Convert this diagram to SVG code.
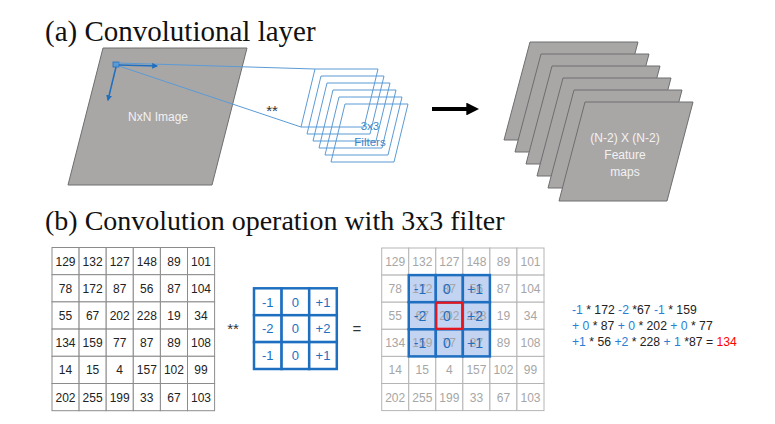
<svg xmlns="http://www.w3.org/2000/svg" width="775" height="424" viewBox="0 0 775 424">
<defs>
<style>
.title{font-family:"Liberation Serif","Times New Roman",serif;font-size:28px;fill:#111}
.wt{font-family:"Liberation Sans",Arial,sans-serif;font-size:12px;fill:#f2f2f2;text-anchor:middle}
.ft{font-family:"Liberation Sans",Arial,sans-serif;font-size:11.5px;fill:#3d85c6;text-anchor:middle}
.sheet{fill:#a9a6a6;stroke:#6e6e6e;stroke-width:1}
.filt{fill:none;stroke:#5b9bd5;stroke-width:1}
.cell{fill:#fff;stroke:#8c8c8c;stroke-width:1}
.num{font-family:"Liberation Sans",Arial,sans-serif;font-size:12px;fill:#222;text-anchor:middle}
.gnum{font-family:"Liberation Sans",Arial,sans-serif;font-size:12px;fill:#a6a6a6;text-anchor:middle}
.gcell{fill:#fff;stroke:#b5b5b5;stroke-width:1}
.kcell{fill:#fff;stroke:#1f6fc0;stroke-width:2.5}
.knum{font-family:"Liberation Sans",Arial,sans-serif;font-size:13px;fill:#1f6fc0;text-anchor:middle}
.hcell{fill:#b9cbf0;fill-opacity:0.85;stroke:#1f6fc0;stroke-width:2.5}
.bnum{font-family:"Liberation Sans",Arial,sans-serif;font-size:14px;fill:#1f6fc0;text-anchor:middle}
.op{font-family:"Liberation Sans",Arial,sans-serif;font-size:15px;fill:#333;text-anchor:middle}
.eq{font-family:"Liberation Sans",Arial,sans-serif;font-size:12.2px;fill:#222}
.b{fill:#2a7fd4}
.r{fill:#ff0000}
.blue{stroke:#1f6fc0;stroke-width:1.5;fill:none}
.bluew{stroke:#1f6fc0;stroke-width:2.5;fill:none}
</style>
<marker id="ah" viewBox="0 0 10 10" refX="8" refY="5" markerWidth="5" markerHeight="5" orient="auto"><path d="M0,0 L10,5 L0,10 z" fill="#1f6fc0"/></marker>
<marker id="ahs" viewBox="0 0 10 10" refX="8" refY="5" markerWidth="4" markerHeight="4" orient="auto"><path d="M0,0 L10,5 L0,10 z" fill="#1f6fc0"/></marker>
<marker id="ahk" viewBox="0 0 10 10" refX="6" refY="5" markerWidth="3.2" markerHeight="3.2" orient="auto"><path d="M0,0 L10,5 L0,10 z" fill="#000"/></marker>
</defs>
<rect width="775" height="424" fill="#fff"/>

<text class="title" x="45" y="41" style="font-size:29px">(a) Convolutional layer</text>
<text class="title" x="45" y="230">(b) Convolution operation with 3x3 filter</text>

<g id="image">
<polygon class="sheet" points="103,48 247,48 212,185 68,185"/>
<text class="wt" x="158" y="121">NxN Image</text>
<rect x="113" y="62" width="6" height="5" fill="#5b9bd5" stroke="#1f6fc0" stroke-width="0.8"/>
</g>

<g id="filters">
<polygon class="filt" points="315,69 378,69 364,127 301,127"/>
<polygon class="filt" points="321,76 384,76 370,134 307,134"/>
<polygon class="filt" points="327,83 390,83 376,141 313,141"/>
<polygon class="filt" points="333,90 396,90 382,148 319,148"/>
<polygon class="filt" points="339,97 402,97 388,155 325,155"/>
<polygon class="filt" points="345,104 408,104 394,162 331,162"/>
<text class="ft" x="370" y="130">3x3</text>
<text class="ft" x="370" y="146">Filters</text>
</g>

<g id="feature-maps">
<polygon class="sheet" points="530,42 638,42 612,140 504,140"/>
<polygon class="sheet" points="541,54 649,54 623,152 515,152"/>
<polygon class="sheet" points="552,66 660,66 634,164 526,164"/>
<polygon class="sheet" points="563,78 671,78 645,176 537,176"/>
<polygon class="sheet" points="574,90 682,90 656,188 548,188"/>
<polygon class="sheet" points="585,102 693,102 667,201 559,201"/>
<text class="wt" x="625" y="142">(N-2) X (N-2)</text>
<text class="wt" x="625" y="159">Feature</text>
<text class="wt" x="625" y="176">maps</text>
</g>

<g id="connectors">
<line x1="118" y1="63" x2="315" y2="69" stroke="#5b9bd5" stroke-width="1"/>
<line x1="119" y1="66" x2="301" y2="127" stroke="#5b9bd5" stroke-width="1"/>
<line x1="119" y1="65" x2="157" y2="66" class="blue" marker-end="url(#ahs)"/>
<line x1="116" y1="67" x2="108" y2="100" class="blue" marker-end="url(#ahs)"/>
<line x1="432" y1="109" x2="474" y2="109" stroke="#000" stroke-width="4" marker-end="url(#ahk)"/>
<line x1="491" y1="316" x2="530" y2="316" class="bluew" marker-end="url(#ah)"/>
<line x1="449" y1="357" x2="449" y2="396" class="bluew" marker-end="url(#ah)"/>
</g>
<text class="op" x="272" y="116">**</text>

<g id="input-matrix">
<g>
<rect class="cell" x="52" y="247.5" width="27.1" height="27.2"/><rect class="cell" x="79.1" y="247.5" width="27.1" height="27.2"/><rect class="cell" x="106.2" y="247.5" width="27.1" height="27.2"/><rect class="cell" x="133.3" y="247.5" width="27.1" height="27.2"/><rect class="cell" x="160.4" y="247.5" width="27.1" height="27.2"/><rect class="cell" x="187.5" y="247.5" width="27.1" height="27.2"/>
<rect class="cell" x="52" y="274.7" width="27.1" height="27.2"/><rect class="cell" x="79.1" y="274.7" width="27.1" height="27.2"/><rect class="cell" x="106.2" y="274.7" width="27.1" height="27.2"/><rect class="cell" x="133.3" y="274.7" width="27.1" height="27.2"/><rect class="cell" x="160.4" y="274.7" width="27.1" height="27.2"/><rect class="cell" x="187.5" y="274.7" width="27.1" height="27.2"/>
<rect class="cell" x="52" y="301.9" width="27.1" height="27.2"/><rect class="cell" x="79.1" y="301.9" width="27.1" height="27.2"/><rect class="cell" x="106.2" y="301.9" width="27.1" height="27.2"/><rect class="cell" x="133.3" y="301.9" width="27.1" height="27.2"/><rect class="cell" x="160.4" y="301.9" width="27.1" height="27.2"/><rect class="cell" x="187.5" y="301.9" width="27.1" height="27.2"/>
<rect class="cell" x="52" y="329.1" width="27.1" height="27.2"/><rect class="cell" x="79.1" y="329.1" width="27.1" height="27.2"/><rect class="cell" x="106.2" y="329.1" width="27.1" height="27.2"/><rect class="cell" x="133.3" y="329.1" width="27.1" height="27.2"/><rect class="cell" x="160.4" y="329.1" width="27.1" height="27.2"/><rect class="cell" x="187.5" y="329.1" width="27.1" height="27.2"/>
<rect class="cell" x="52" y="356.3" width="27.1" height="27.2"/><rect class="cell" x="79.1" y="356.3" width="27.1" height="27.2"/><rect class="cell" x="106.2" y="356.3" width="27.1" height="27.2"/><rect class="cell" x="133.3" y="356.3" width="27.1" height="27.2"/><rect class="cell" x="160.4" y="356.3" width="27.1" height="27.2"/><rect class="cell" x="187.5" y="356.3" width="27.1" height="27.2"/>
<rect class="cell" x="52" y="383.5" width="27.1" height="27.2"/><rect class="cell" x="79.1" y="383.5" width="27.1" height="27.2"/><rect class="cell" x="106.2" y="383.5" width="27.1" height="27.2"/><rect class="cell" x="133.3" y="383.5" width="27.1" height="27.2"/><rect class="cell" x="160.4" y="383.5" width="27.1" height="27.2"/><rect class="cell" x="187.5" y="383.5" width="27.1" height="27.2"/>
</g>
<g>
<text class="num" x="65.5" y="265.5">129</text><text class="num" x="92.6" y="265.5">132</text><text class="num" x="119.7" y="265.5">127</text><text class="num" x="146.8" y="265.5">148</text><text class="num" x="173.9" y="265.5">89</text><text class="num" x="201" y="265.5">101</text>
<text class="num" x="65.5" y="292.7">78</text><text class="num" x="92.6" y="292.7">172</text><text class="num" x="119.7" y="292.7">87</text><text class="num" x="146.8" y="292.7">56</text><text class="num" x="173.9" y="292.7">87</text><text class="num" x="201" y="292.7">104</text>
<text class="num" x="65.5" y="319.9">55</text><text class="num" x="92.6" y="319.9">67</text><text class="num" x="119.7" y="319.9">202</text><text class="num" x="146.8" y="319.9">228</text><text class="num" x="173.9" y="319.9">19</text><text class="num" x="201" y="319.9">34</text>
<text class="num" x="65.5" y="347.1">134</text><text class="num" x="92.6" y="347.1">159</text><text class="num" x="119.7" y="347.1">77</text><text class="num" x="146.8" y="347.1">87</text><text class="num" x="173.9" y="347.1">89</text><text class="num" x="201" y="347.1">108</text>
<text class="num" x="65.5" y="374.3">14</text><text class="num" x="92.6" y="374.3">15</text><text class="num" x="119.7" y="374.3">4</text><text class="num" x="146.8" y="374.3">157</text><text class="num" x="173.9" y="374.3">102</text><text class="num" x="201" y="374.3">99</text>
<text class="num" x="65.5" y="401.5">202</text><text class="num" x="92.6" y="401.5">255</text><text class="num" x="119.7" y="401.5">199</text><text class="num" x="146.8" y="401.5">33</text><text class="num" x="173.9" y="401.5">67</text><text class="num" x="201" y="401.5">103</text>
</g>
</g>

<text class="op" x="233" y="334">**</text>

<g id="kernel">
<rect class="kcell" x="254" y="288.3" width="27.6" height="26.9"/><rect class="kcell" x="281.6" y="288.3" width="27.6" height="26.9"/><rect class="kcell" x="309.2" y="288.3" width="27.6" height="26.9"/>
<rect class="kcell" x="254" y="315.2" width="27.6" height="26.9"/><rect class="kcell" x="281.6" y="315.2" width="27.6" height="26.9"/><rect class="kcell" x="309.2" y="315.2" width="27.6" height="26.9"/>
<rect class="kcell" x="254" y="342.1" width="27.6" height="26.9"/><rect class="kcell" x="281.6" y="342.1" width="27.6" height="26.9"/><rect class="kcell" x="309.2" y="342.1" width="27.6" height="26.9"/>
<text class="knum" x="267.8" y="306.5">-1</text><text class="knum" x="295.4" y="306.5">0</text><text class="knum" x="323" y="306.5">+1</text>
<text class="knum" x="267.8" y="333.4">-2</text><text class="knum" x="295.4" y="333.4">0</text><text class="knum" x="323" y="333.4">+2</text>
<text class="knum" x="267.8" y="360.3">-1</text><text class="knum" x="295.4" y="360.3">0</text><text class="knum" x="323" y="360.3">+1</text>
</g>

<text class="op" x="357" y="334">=</text>

<g id="output-matrix">
<g>
<rect class="gcell" x="381.7" y="248" width="27.05" height="27.1"/><rect class="gcell" x="408.75" y="248" width="27.05" height="27.1"/><rect class="gcell" x="435.8" y="248" width="27.05" height="27.1"/><rect class="gcell" x="462.85" y="248" width="27.05" height="27.1"/><rect class="gcell" x="489.9" y="248" width="27.05" height="27.1"/><rect class="gcell" x="516.95" y="248" width="27.05" height="27.1"/>
<rect class="gcell" x="381.7" y="275.1" width="27.05" height="27.1"/><rect class="gcell" x="408.75" y="275.1" width="27.05" height="27.1"/><rect class="gcell" x="435.8" y="275.1" width="27.05" height="27.1"/><rect class="gcell" x="462.85" y="275.1" width="27.05" height="27.1"/><rect class="gcell" x="489.9" y="275.1" width="27.05" height="27.1"/><rect class="gcell" x="516.95" y="275.1" width="27.05" height="27.1"/>
<rect class="gcell" x="381.7" y="302.2" width="27.05" height="27.1"/><rect class="gcell" x="408.75" y="302.2" width="27.05" height="27.1"/><rect class="gcell" x="435.8" y="302.2" width="27.05" height="27.1"/><rect class="gcell" x="462.85" y="302.2" width="27.05" height="27.1"/><rect class="gcell" x="489.9" y="302.2" width="27.05" height="27.1"/><rect class="gcell" x="516.95" y="302.2" width="27.05" height="27.1"/>
<rect class="gcell" x="381.7" y="329.3" width="27.05" height="27.1"/><rect class="gcell" x="408.75" y="329.3" width="27.05" height="27.1"/><rect class="gcell" x="435.8" y="329.3" width="27.05" height="27.1"/><rect class="gcell" x="462.85" y="329.3" width="27.05" height="27.1"/><rect class="gcell" x="489.9" y="329.3" width="27.05" height="27.1"/><rect class="gcell" x="516.95" y="329.3" width="27.05" height="27.1"/>
<rect class="gcell" x="381.7" y="356.4" width="27.05" height="27.1"/><rect class="gcell" x="408.75" y="356.4" width="27.05" height="27.1"/><rect class="gcell" x="435.8" y="356.4" width="27.05" height="27.1"/><rect class="gcell" x="462.85" y="356.4" width="27.05" height="27.1"/><rect class="gcell" x="489.9" y="356.4" width="27.05" height="27.1"/><rect class="gcell" x="516.95" y="356.4" width="27.05" height="27.1"/>
<rect class="gcell" x="381.7" y="383.5" width="27.05" height="27.1"/><rect class="gcell" x="408.75" y="383.5" width="27.05" height="27.1"/><rect class="gcell" x="435.8" y="383.5" width="27.05" height="27.1"/><rect class="gcell" x="462.85" y="383.5" width="27.05" height="27.1"/><rect class="gcell" x="489.9" y="383.5" width="27.05" height="27.1"/><rect class="gcell" x="516.95" y="383.5" width="27.05" height="27.1"/>
</g>
<g>
<text class="gnum" x="395.2" y="266">129</text><text class="gnum" x="422.3" y="266">132</text><text class="gnum" x="449.3" y="266">127</text><text class="gnum" x="476.4" y="266">148</text><text class="gnum" x="503.4" y="266">89</text><text class="gnum" x="530.5" y="266">101</text>
<text class="gnum" x="395.2" y="293.1">78</text><text class="gnum" x="503.4" y="293.1">87</text><text class="gnum" x="530.5" y="293.1">104</text>
<text class="gnum" x="395.2" y="320.2">55</text><text class="gnum" x="503.4" y="320.2">19</text><text class="gnum" x="530.5" y="320.2">34</text>
<text class="gnum" x="395.2" y="347.3">134</text><text class="gnum" x="503.4" y="347.3">89</text><text class="gnum" x="530.5" y="347.3">108</text>
<text class="gnum" x="395.2" y="374.4">14</text><text class="gnum" x="422.3" y="374.4">15</text><text class="gnum" x="449.3" y="374.4">4</text><text class="gnum" x="476.4" y="374.4">157</text><text class="gnum" x="503.4" y="374.4">102</text><text class="gnum" x="530.5" y="374.4">99</text>
<text class="gnum" x="395.2" y="401.5">202</text><text class="gnum" x="422.3" y="401.5">255</text><text class="gnum" x="449.3" y="401.5">199</text><text class="gnum" x="476.4" y="401.5">33</text><text class="gnum" x="503.4" y="401.5">67</text><text class="gnum" x="530.5" y="401.5">103</text>
</g>
<g>
<rect class="hcell" x="408.75" y="275.1" width="27.05" height="27.1"/><rect class="hcell" x="435.8" y="275.1" width="27.05" height="27.1"/><rect class="hcell" x="462.85" y="275.1" width="27.05" height="27.1"/>
<rect class="hcell" x="408.75" y="302.2" width="27.05" height="27.1"/><rect class="hcell" x="435.8" y="302.2" width="27.05" height="27.1"/><rect class="hcell" x="462.85" y="302.2" width="27.05" height="27.1"/>
<rect class="hcell" x="408.75" y="329.3" width="27.05" height="27.1"/><rect class="hcell" x="435.8" y="329.3" width="27.05" height="27.1"/><rect class="hcell" x="462.85" y="329.3" width="27.05" height="27.1"/>
<text class="gnum" x="422.3" y="293.1">172</text><text class="gnum" x="449.3" y="293.1">87</text><text class="gnum" x="476.4" y="293.1">56</text>
<text class="gnum" x="422.3" y="320.2">67</text><text class="gnum" x="449.3" y="320.2">202</text><text class="gnum" x="476.4" y="320.2">228</text>
<text class="gnum" x="422.3" y="347.3">159</text><text class="gnum" x="449.3" y="347.3">77</text><text class="gnum" x="476.4" y="347.3">87</text>
<rect x="436.3" y="302.7" width="26" height="26.1" fill="none" stroke="#e8141b" stroke-width="2.2"/>
<text class="bnum" x="420" y="294">-1</text><text class="bnum" x="447" y="294">0</text><text class="bnum" x="475" y="294">+1</text>
<text class="bnum" x="420" y="321">-2</text><text class="bnum" x="447" y="321">0</text><text class="bnum" x="475" y="321">+2</text>
<text class="bnum" x="420" y="348">-1</text><text class="bnum" x="447" y="348">0</text><text class="bnum" x="475" y="348">+1</text>
</g>
</g>

<g id="equation">
<text class="eq" x="572" y="314"><tspan class="b">-1</tspan> * 172  <tspan class="b">-2</tspan> *67 <tspan class="b">-1</tspan> * 159</text>
<text class="eq" x="572" y="330"><tspan class="b">+ 0</tspan> * 87 <tspan class="b">+ 0</tspan> * 202 <tspan class="b">+ 0</tspan> * 77</text>
<text class="eq" x="572" y="346"><tspan class="b">+1</tspan> * 56 <tspan class="b">+2</tspan> * 228 <tspan class="b">+ 1</tspan> *87 = <tspan class="r">134</tspan></text>
</g>
</svg>
